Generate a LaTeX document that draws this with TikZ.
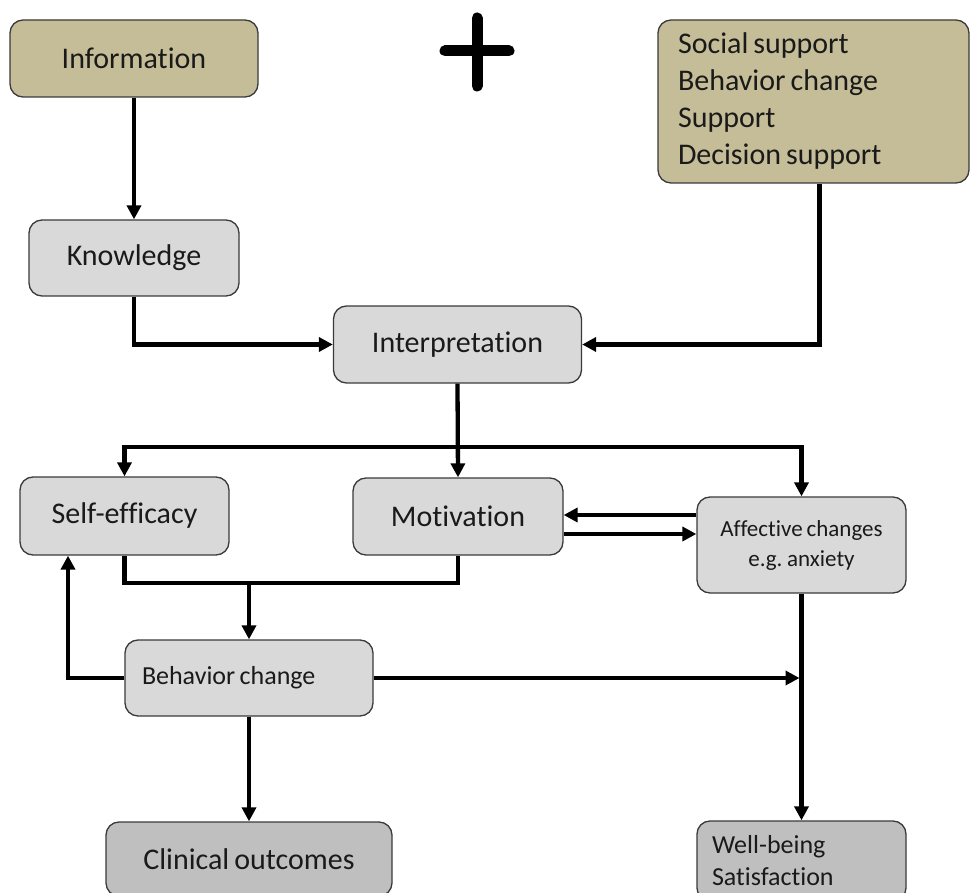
\documentclass[tikz,border=0pt]{standalone}
\usepackage{fontspec}
\setmainfont{Carlito}[Ligatures=NoCommon]
\usetikzlibrary{arrows.meta}
\definecolor{boxtan}{HTML}{C4BD97}
\definecolor{boxgray}{HTML}{D9D9D9}
\definecolor{boxdark}{HTML}{BFBFBF}
\definecolor{boxline}{HTML}{3A3A3A}
\definecolor{txt}{HTML}{1A1A1A}
\newcommand{\tightsp}{\spaceskip=0.17em plus 0.02em\relax\xspaceskip=0.2em\relax}
\begin{document}
\begin{tikzpicture}[x=1pt,y=-1pt,
  box/.style={draw=boxline, line width=1.3pt, rounded corners=13pt, fill=boxgray,
    inner sep=0pt, text=txt, font=\fontsize{30}{36}\selectfont\tightsp},
  conn/.style={line width=4.3pt, black},
  arr/.style={conn, -{Triangle[width=14pt,length=14pt]}},
]
\useasboundingbox (0,0) rectangle (970,893);
\clip (0,0) rectangle (970,893);

% plus sign
\draw[line width=11pt, line cap=round] (477,18) -- (477,86);
\draw[line width=11pt, line cap=round] (445,51) -- (509,51);

% nodes
\node[box, fill=boxtan, minimum width=248pt, minimum height=77pt] (info) at (134,58.5) {Information};
\node[box, fill=boxtan, minimum width=311pt, minimum height=163pt, text width=271pt, align=left,
  font=\fontsize{30}{37}\selectfont] (soc) at (813.5,101.5)
  {\tightsp Social support\\Behavior change\\Support\\Decision support};
\node[box, minimum width=210pt, minimum height=76pt] (know) at (134,258) {Knowledge};
\node[box, minimum width=248pt, minimum height=77pt] (interp) at (457.5,344.5) {Interpretation};
\node[box, minimum width=209pt, minimum height=78pt] (self) at (124.5,516) {Self-efficacy};
\node[box, minimum width=210pt, minimum height=77pt] (mot) at (458,516.5) {Motivation};
\node[box, minimum width=209pt, minimum height=96pt, align=center,
  font=\fontsize{23}{30}\selectfont] (aff) at (801.5,545) {\tightsp Affective changes\\\tightsp e.g. anxiety};
\node[box, minimum width=248pt, minimum height=76pt, text width=214pt, align=left,
  font=\fontsize{26}{32}\selectfont] (bc) at (249,678) {\tightsp Behavior change};
\node[box, fill=boxdark, minimum width=286pt, minimum height=74pt] (clin) at (249,859) {Clinical outcomes};
\node[box, fill=boxdark, minimum width=209pt, minimum height=80pt, text width=179pt, align=left,
  font=\fontsize{26}{32}\selectfont] (wb) at (801.5,861) {Well-being\\Satisfaction};

% helper coordinates
\coordinate (split) at (457.5,447);
\coordinate (join) at (249,583);
\coordinate (fb) at (68,678);

% connectors
\draw[arr] (info.south) -- (know.north);
\draw[arr] (know.south) |- (interp.west);
\draw[arr] ([xshift=6pt]soc.south) |- (interp.east);
\draw[arr] (interp.south) -- (mot.north);
\draw[arr] (split) -| (self.north);
\draw[arr] (split) -| (aff.north);
\draw[arr] ([yshift=30pt]aff.west) -- ([yshift=1.5pt]mot.east);
\draw[arr] ([yshift=-17.5pt]mot.east) -- ([yshift=11pt]aff.west);
\draw[conn] (self.south) |- (join) -| (mot.south);
\draw[arr] (join) -- (bc.north);
\draw[arr] (bc.west) -- (fb) -- (fb |- self.south);
\draw[arr, shorten >=2pt] (bc.east) -- (bc.east -| aff.south);
\draw[arr] (aff.south) -- (wb.north);
\draw[arr] (bc.south) -- (clin.north);
\end{tikzpicture}
\end{document}
